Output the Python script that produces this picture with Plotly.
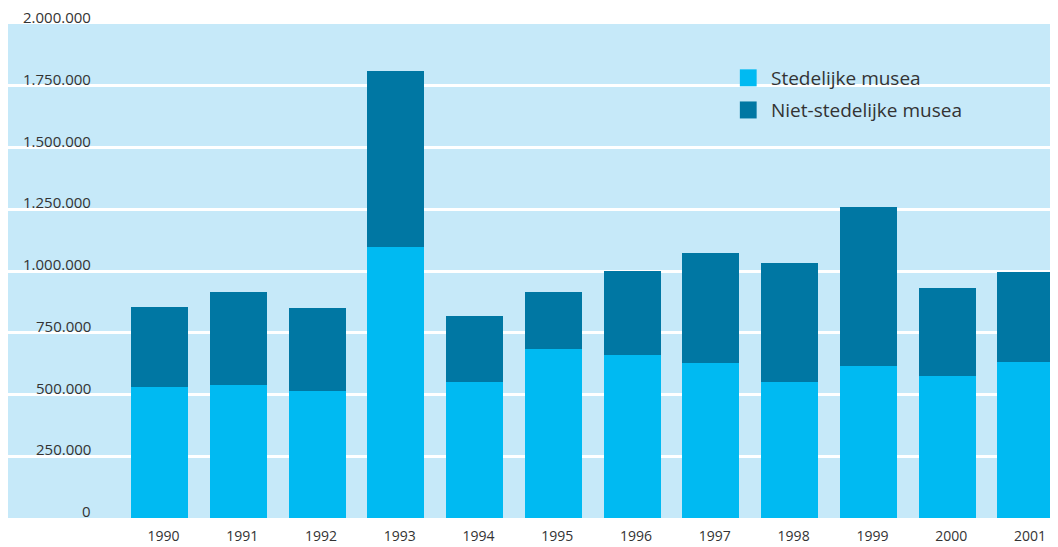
import plotly.graph_objects as go

# Bezoekers musea per jaar
jaren = ["1990", "1991", "1992", "1993", "1994", "1995",
         "1996", "1997", "1998", "1999", "2000", "2001"]
stedelijk = [532000, 540000, 516000, 1099000, 552000, 686000,
             658000, 629000, 552000, 617000, 573000, 633000]
niet_stedelijk = [324000, 373000, 336000, 709000, 264000, 227000,
                  344000, 442000, 482000, 644000, 360000, 361000]
y_ticks = [0, 250000, 500000, 750000, 1000000, 1250000, 1500000, 1750000, 2000000]
legend_labels = ["Stedelijke musea", "Niet-stedelijke musea"]

LICHT = "#00BAF2"
DONKER = "#0077A3"
ACHTERGROND = "#C6E9F9"
TEKST = "#333333"
FONT = "Open Sans"

fig = go.Figure()
fig.add_trace(go.Bar(x=jaren, y=stedelijk, name=legend_labels[0],
                     marker=dict(color=LICHT, line=dict(width=0)), width=0.7236))
fig.add_trace(go.Bar(x=jaren, y=niet_stedelijk, name=legend_labels[1],
                     marker=dict(color=DONKER, line=dict(width=0)), width=0.7236))

# y tick labels sit above the gridlines, right aligned
for v in y_ticks:
    fig.add_annotation(x=0.081, xref="paper", xanchor="right", y=v, yref="y",
                       yanchor="middle", yshift=7, showarrow=False,
                       text=f"{v:,}".replace(",", "."),
                       font=dict(family=FONT, size=15, color=TEKST))

# legend drawn by hand (bigger swatches than plotly's legend)
for i, (lab, col) in enumerate(zip(legend_labels, [LICHT, DONKER])):
    y_mid = 0.891 - i * 0.065
    fig.add_shape(type="rect", xref="paper", yref="paper",
                  x0=0.697, x1=0.713, y0=y_mid - 0.0172, y1=y_mid + 0.0172,
                  fillcolor=col, line=dict(width=0))
    fig.add_annotation(x=0.7248, xref="paper", xanchor="left", y=y_mid, yref="paper",
                       yanchor="middle", showarrow=False, text=lab,
                       font=dict(family=FONT, size=19, color=TEKST))

# page body has an 8px margin, so the figure is 8px smaller than the window
fig.update_layout(
    width=1050, height=539,
    barmode="stack",
    showlegend=False,
    plot_bgcolor=ACHTERGROND,
    paper_bgcolor="white",
    margin=dict(l=0, r=0, t=16, b=29),
    font=dict(family=FONT, color=TEKST),
    xaxis=dict(range=[-1.923, 11.407], showgrid=False, zeroline=False,
               showline=False, ticks="", ticklabelstandoff=8, ticklabelshift=4,
               tickfont=dict(family=FONT, size=14, color=TEKST)),
    yaxis=dict(range=[0, 2000000], tickvals=y_ticks, showticklabels=False,
               showgrid=True, gridcolor="white", gridwidth=2.5,
               zeroline=False, showline=False, ticks=""),
)

fig.write_html("out.html")
